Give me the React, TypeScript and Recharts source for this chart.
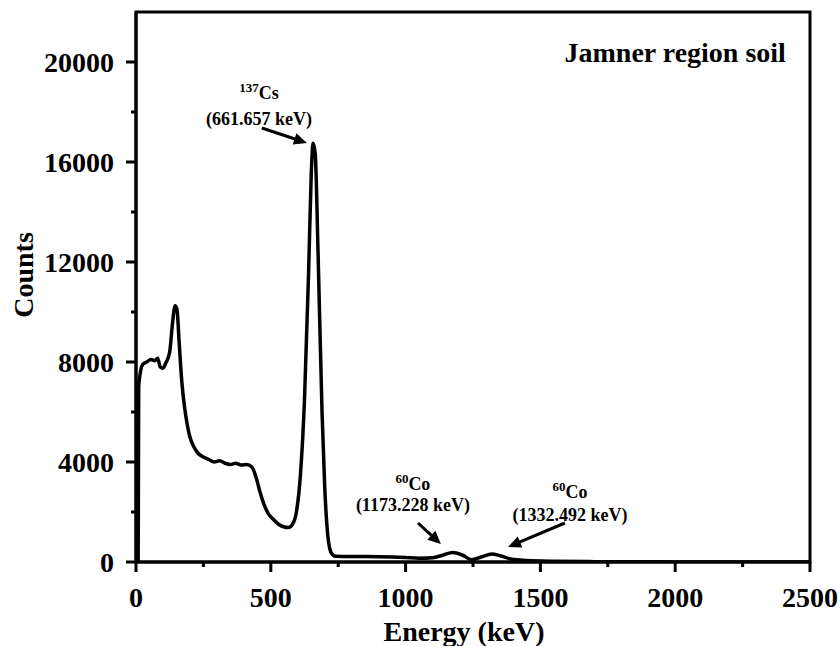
import React from 'react';
import {
  LineChart,
  Line,
  XAxis,
  YAxis,
  ReferenceArea,
  ReferenceDot,
  ReferenceLine,
  Label,
} from 'recharts';

// ---- Data ----
const energyKeV = [
  0, 5, 8, 10, 15, 25, 40, 55, 70, 80, 90, 100, 110, 125, 135, 145, 152, 160, 170, 180,
  190, 200, 215, 230, 250, 270, 290, 310, 330, 350, 370, 390, 410, 430, 445, 460, 475,
  490, 510, 530, 550, 565, 580, 595, 610, 625, 640, 650, 657, 665, 675, 690, 700, 712,
  725, 740, 800, 900, 950, 1000, 1050, 1100, 1140, 1175, 1210, 1245, 1280, 1320, 1350,
  1390, 1450, 1550, 1700, 2000, 2500,
];
const countsValues = [
  0, 0, 0, 7000, 7500, 7900, 8000, 8100, 8050, 8150, 7800, 7750, 7950, 8400, 9500, 10250,
  10100, 8800, 7200, 6200, 5500, 5000, 4600, 4350, 4200, 4100, 4000, 4050, 3950, 3900,
  3950, 3880, 3900, 3800, 3400, 2800, 2300, 1950, 1700, 1500, 1400, 1380, 1500, 2000,
  3500, 6500, 11500, 15500, 16750, 16300, 12500, 6000, 3000, 1000, 350, 230, 220, 210,
  200, 180, 150, 170, 280, 380, 280, 90, 200, 320, 250, 120, 60, 30, 15, 5, 0,
];

const xTicks = [0, 250, 500, 750, 1000, 1250, 1500, 1750, 2000, 2250, 2500];
const xMajorTicks = [0, 500, 1000, 1500, 2000, 2500];
const yTicks = [0, 2000, 4000, 6000, 8000, 10000, 12000, 14000, 16000, 18000, 20000];
const yMajorTicks = [0, 4000, 8000, 12000, 16000, 20000];

const chartTitle = 'Jamner region soil';
const xTitle = 'Energy (keV)';
const yTitle = 'Counts';

const peakMass = ['137', '60', '60'];
const peakElement = ['Cs', 'Co', 'Co'];
const peakEnergyText = ['(661.657 keV)', '(1173.228 keV)', '(1332.492 keV)'];

// annotation anchors (data coordinates)
const labelAnchorX = [456, 1027, 1610];
const labelAnchorY = [18520, 2880, 2560];
const labelLineGap = [26, 21, 23];
const arrowFromX = [467, 1046, 1591];
const arrowFromY = [17360, 1560, 1560];
const arrowToX = [634, 1131, 1380];
const arrowToY = [16760, 720, 600];
const titleAnchor = { x: 2000, y: 20000 };

const data = energyKeV.map((e, i) => ({ e, c: countsValues[i] }));

const FONT = '"Liberation Serif", "Times New Roman", Times, serif';

const XTick = (props: any) => {
  const { x, y, payload } = props;
  const major = xMajorTicks.includes(payload.value);
  return (
    <g>
      <line x1={x} y1={y} x2={x} y2={y + (major ? 10 : 5)} stroke="#000" strokeWidth={3} />
      {major && (
        <text x={x} y={y + 45} textAnchor="middle" fontFamily={FONT} fontWeight="bold" fontSize={28} fill="#000">
          {payload.value}
        </text>
      )}
    </g>
  );
};

const YTick = (props: any) => {
  const { x, y, payload } = props;
  const major = yMajorTicks.includes(payload.value);
  return (
    <g>
      <line x1={x - (major ? 10 : 5)} y1={y} x2={x} y2={y} stroke="#000" strokeWidth={3} />
      {major && (
        <text x={x - 22} y={y + 9.5} textAnchor="end" fontFamily={FONT} fontWeight="bold" fontSize={28} fill="#000">
          {payload.value}
        </text>
      )}
    </g>
  );
};

const XTitle = (props: any) => {
  const { x, y, width } = props.viewBox;
  return (
    <text x={x + width / 2 - 9} y={y + 79} textAnchor="middle" fontFamily={FONT} fontWeight="bold" fontSize={28} fill="#000">
      {xTitle}
    </text>
  );
};

const YTitle = (props: any) => {
  const { x, y, height } = props.viewBox;
  const cx = x + 33;
  const cy = y + height / 2 - 12;
  return (
    <text x={cx} y={cy} transform={`rotate(-90 ${cx} ${cy})`} textAnchor="middle" fontFamily={FONT} fontWeight="bold" fontSize={28} fill="#000">
      {yTitle}
    </text>
  );
};

const makePeakLabel = (i: number) => (props: any) => {
  const { cx, cy } = props;
  return (
    <g>
      <text x={cx} y={cy} textAnchor="middle" fontFamily={FONT} fontWeight="bold" fill="#000">
        <tspan fontSize={13} dy={-7}>{peakMass[i]}</tspan>
        <tspan fontSize={18} dy={7}>{peakElement[i]}</tspan>
      </text>
      <text x={cx} y={cy + labelLineGap[i]} textAnchor="middle" fontFamily={FONT} fontWeight="bold" fontSize={18} fill="#000">
        {peakEnergyText[i]}
      </text>
    </g>
  );
};

const TitleShape = (props: any) => {
  const { cx, cy } = props;
  return (
    <text x={cx} y={cy} textAnchor="middle" fontFamily={FONT} fontWeight="bold" fontSize={28} fill="#000">
      {chartTitle}
    </text>
  );
};

const ArrowShape = (props: any) => {
  const { x1, y1, x2, y2 } = props;
  const dx = x2 - x1;
  const dy = y2 - y1;
  const L = Math.hypot(dx, dy) || 1;
  const ux = dx / L;
  const uy = dy / L;
  const head = 13;
  const hw = 6;
  const bx = x2 - ux * head;
  const by = y2 - uy * head;
  const px = -uy;
  const py = ux;
  return (
    <g>
      <line x1={x1} y1={y1} x2={bx + ux * 2} y2={by + uy * 2} stroke="#000" strokeWidth={3} />
      <polygon points={`${x2},${y2} ${bx + px * hw},${by + py * hw} ${bx - px * hw},${by - py * hw}`} fill="#000" />
    </g>
  );
};

export default function App() {
  return (
    <div style={{ position: 'absolute', left: 0, top: 0, width: 840, height: 646 }}>
      <LineChart width={840} height={646} data={data} margin={{ top: 12, right: 30, left: 0, bottom: 0 }}>
        <XAxis
          dataKey="e"
          type="number"
          domain={[0, 2500]}
          ticks={xTicks}
          interval={0}
          tickSize={0}
          tickMargin={0}
          tickLine={false}
          tick={<XTick />}
          axisLine={{ stroke: '#000', strokeWidth: 3 }}
          height={84}
          allowDataOverflow
        >
          <Label content={<XTitle />} />
        </XAxis>
        <YAxis
          type="number"
          domain={[0, 22000]}
          ticks={yTicks}
          interval={0}
          tickSize={0}
          tickMargin={0}
          tickLine={false}
          tick={<YTick />}
          axisLine={{ stroke: '#000', strokeWidth: 3 }}
          width={136}
          allowDataOverflow
        >
          <Label content={<YTitle />} />
        </YAxis>
        <Line
          type="monotone"
          dataKey="c"
          stroke="#000"
          strokeWidth={3.5}
          dot={false}
          activeDot={false}
          isAnimationActive={false}
        />
        <ReferenceArea x1={0} x2={2500} y1={0} y2={22000} fill="none" stroke="#000" strokeWidth={3} ifOverflow="visible" />
        {arrowFromX.map((_, i) => (
          <ReferenceLine
            key={`arrow-${i}`}
            segment={[
              { x: arrowFromX[i], y: arrowFromY[i] },
              { x: arrowToX[i], y: arrowToY[i] },
            ]}
            ifOverflow="visible"
            shape={ArrowShape}
          />
        ))}
        {labelAnchorX.map((_, i) => (
          <ReferenceDot
            key={`lbl-${i}`}
            x={labelAnchorX[i]}
            y={labelAnchorY[i]}
            r={0}
            ifOverflow="visible"
            shape={makePeakLabel(i)}
          />
        ))}
        <ReferenceDot x={titleAnchor.x} y={titleAnchor.y} r={0} ifOverflow="visible" shape={TitleShape} />
      </LineChart>
    </div>
  );
}
